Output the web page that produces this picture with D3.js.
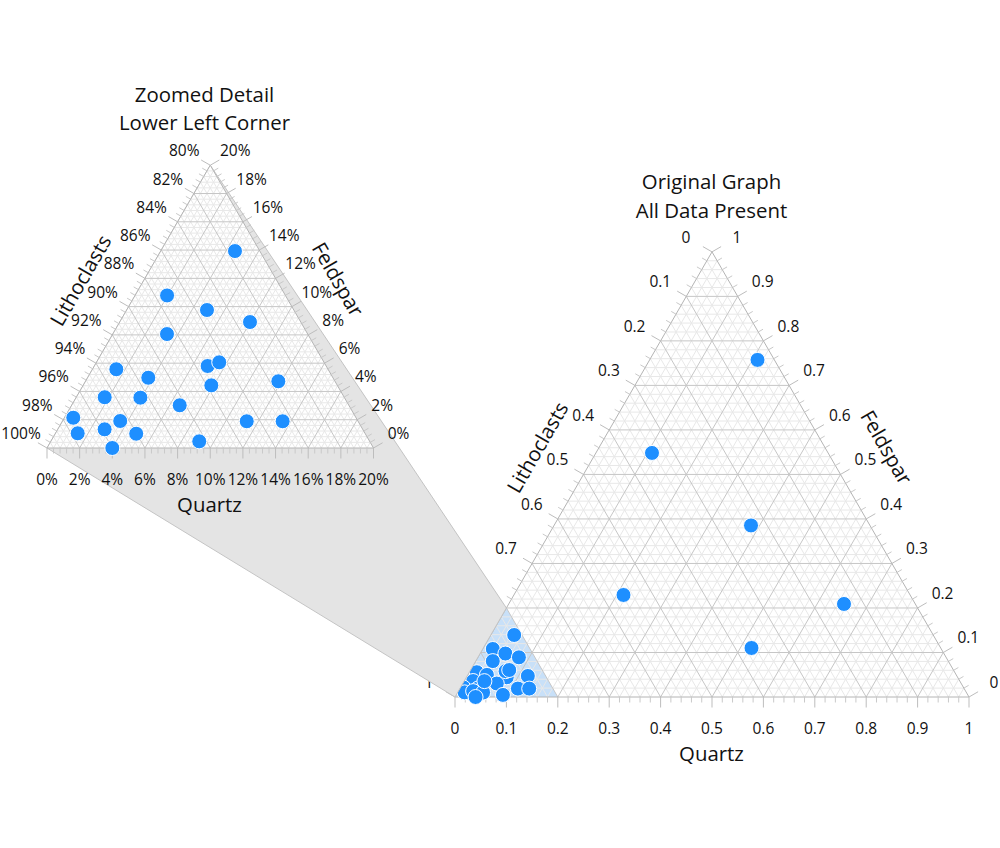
<!DOCTYPE html>
<html lang="en">
<head>
  <meta charset="UTF-8">
  <title>Ternary zoom</title>
  <style>
    body { margin: 0; background: #fff; }
    svg text { font-family: "Open Sans", sans-serif; fill: #111; }
    .tick-label { font-size: 15.5px; text-anchor: middle; dominant-baseline: central; }
    .title { font-size: 20.4px; text-anchor: middle; dominant-baseline: central; }
  </style>
</head>
<body>
  <div id="chart"></div>
  <script src="https://cdn.jsdelivr.net/npm/d3@7"></script>
  <script>
    // percentages; lithoclasts is whatever is left to 100
    var quartz = [4.55, 1.96, 4.92, 7.98, 3.32, 7.85, 6.94, 1.46, 3.72, 11.81, 1.74,
                  6.62, 0.54, 3.53, 11.29, 13.49, 1.36, 2.87, 4.96, 9.09, 4.0, 3.94, 7.52,
                  20.99, 10.91, 38.32, 21.32, 65.23, 52.18];
    var feldspar = [13.93, 10.79, 9.76, 8.91, 8.06, 4.43, 5.8, 5.57, 4.97, 4.72, 3.59,
                    3.02, 2.14, 1.91, 1.89, 1.89, 1.04, 1.32, 1.01, 0.47, 0, 3.56, 6.06,
                    75.73, 54.83, 38.54, 22.92, 20.9, 11.01];

    var fullTicks = ["0", "0.1", "0.2", "0.3", "0.4", "0.5", "0.6", "0.7", "0.8", "0.9", "1"];
    var zoomQuartzTicks = ["0%", "2%", "4%", "6%", "8%", "10%", "12%", "14%", "16%", "18%", "20%"];
    var zoomLithoTicks = ["80%", "82%", "84%", "86%", "88%", "90%", "92%", "94%", "96%", "98%", "100%"];
    var axisTitles = ["Quartz", "Lithoclasts", "Feldspar"];

    var points = quartz.map(function (q, i) {
      return { q: q, f: feldspar[i], l: 100 - q - feldspar[i] };
    });

    var width = 1000, height = 848;
    var svg = d3.select("#chart").append("svg").attr("width", width).attr("height", height);

    var majorColor = "#c6c6c6", minorColor = "#e8e8e8", edgeColor = "#b4b4b4";

    function ternary(opt) {
      var g = svg.append("g");
      var max = opt.max;
      var sx = d3.scaleLinear().domain([0, max]).range([opt.x0, opt.x0 + opt.w]);
      var h = opt.w * Math.sqrt(3) / 2;
      var sy = d3.scaleLinear().domain([0, max]).range([opt.y0, opt.y0 - h]);

      // q = quartz, f = feldspar
      function px(q, f) { return sx(q + f / 2); }
      function py(f) { return sy(f); }
      function path(pts) {
        return "M" + pts.map(function (p) { return px(p[0], p[1]) + "," + py(p[1]); }).join("L");
      }

      g.append("path").attr("d", path([[0, 0], [max, 0], [0, max]]) + "Z").attr("fill", "#fff");
      if (opt.highlight) {
        g.append("path").attr("d", path([[0, 0], [opt.highlight, 0], [0, opt.highlight]]) + "Z")
          .attr("fill", "#c8e0f8");
      }

      var steps = d3.range(1, 50).map(function (i) { return max * i / 50; });
      var major = steps.filter(function (d, i) { return (i + 1) % 5 === 0; });
      var minor = steps.filter(function (d, i) { return (i + 1) % 5 !== 0; });

      function gridLines(vals, color) {
        vals.forEach(function (v) {
          var lines = [
            [[v, 0], [v, max - v]],
            [[0, v], [max - v, v]],
            [[v, 0], [0, v]]
          ];
          lines.forEach(function (l) {
            g.append("path").attr("d", path(l)).attr("fill", "none")
              .attr("stroke", color).attr("stroke-width", 1);
          });
        });
      }
      gridLines(minor, minorColor);
      gridLines(major, majorColor);

      g.append("path").attr("d", path([[0, 0], [max, 0], [0, max]]) + "Z")
        .attr("fill", "none").attr("stroke", edgeColor).attr("stroke-width", 1);

      // tick marks: bottom straight down, sides lean out 30 degrees above horizontal
      var c30 = Math.cos(Math.PI / 6), s30 = 0.5;
      var ticks = d3.range(0, 51).map(function (i) { return max * i / 50; });
      ticks.forEach(function (v, i) {
        var len = i % 5 === 0 ? 10.5 : 5.5;
        var col = i % 5 === 0 ? "#bdbdbd" : "#c9c9c9";
        g.append("line").attr("x1", px(v, 0)).attr("y1", py(0))
          .attr("x2", px(v, 0)).attr("y2", py(0) + len).attr("stroke", col);
        g.append("line").attr("x1", px(0, v)).attr("y1", py(v))
          .attr("x2", px(0, v) - len * c30).attr("y2", py(v) - len * s30).attr("stroke", col);
        g.append("line").attr("x1", px(max - v, v)).attr("y1", py(v))
          .attr("x2", px(max - v, v) + len * c30).attr("y2", py(v) - len * s30).attr("stroke", col);
      });

      // tick labels, one every 5 ticks
      d3.range(0, 11).forEach(function (i) {
        var v = max * i / 10;
        g.append("text").attr("class", "tick-label")
          .attr("x", px(v, 0)).attr("y", py(0) + 30.5).text(opt.quartzLabels[i]);
        g.append("text").attr("class", "tick-label")
          .attr("x", px(0, max - v) - 26).attr("y", py(max - v) - 15).text(opt.lithoLabels[i]);
        g.append("text").attr("class", "tick-label")
          .attr("x", px(max - v, v) + 25).attr("y", py(v) - 15).text(opt.feldsparLabels[i]);
      });

      opt.title.forEach(function (t, i) {
        g.append("text").attr("class", "title")
          .attr("x", opt.titleX).attr("y", opt.titleY + i * 28.5).text(t);
      });
      g.append("text").attr("class", "title")
        .attr("x", opt.qTitle[0]).attr("y", opt.qTitle[1]).text(axisTitles[0]);
      g.append("text").attr("class", "title")
        .attr("transform", "translate(" + opt.lTitle + ") rotate(-60)").text(axisTitles[1]);
      g.append("text").attr("class", "title")
        .attr("transform", "translate(" + opt.fTitle + ") rotate(60)").text(axisTitles[2]);

      g.selectAll("circle")
        .data(points.filter(function (d) { return d.l >= 100 - max; }))
        .enter().append("circle")
        .attr("cx", function (d) { return px(d.q, d.f); })
        .attr("cy", function (d) { return py(d.f); })
        .attr("r", 7.5)
        .attr("fill", "#1e8fff")
        .attr("stroke", "#fff")
        .attr("stroke-width", 1);

      return { px: px, py: py };
    }

    var full = ternary({
      x0: 455, y0: 697, w: 514, max: 100, highlight: 20,
      quartzLabels: fullTicks,
      lithoLabels: fullTicks,
      feldsparLabels: fullTicks,
      title: ["Original Graph", "All Data Present"], titleX: 711.5, titleY: 181,
      qTitle: [711.5, 752.5], lTitle: [537, 447], fTitle: [887, 447]
    });

    // grey wedge joining the highlighted corner to the zoomed triangle
    var zx0 = 47, zy0 = 448, zw = 326.5;
    var wedge = [
      [zx0 + zw / 2, zy0 - zw * Math.sqrt(3) / 2],
      [full.px(0, 20), full.py(20)],
      [full.px(0, 0), full.py(0)],
      [zx0, zy0]
    ];
    svg.append("path").attr("d", "M" + wedge.join("L") + "Z")
      .attr("fill", "#e4e4e4").attr("stroke", "#c4c4c4").attr("stroke-width", 1);

    ternary({
      x0: zx0, y0: zy0, w: zw, max: 20,
      quartzLabels: zoomQuartzTicks,
      lithoLabels: zoomLithoTicks,
      feldsparLabels: zoomQuartzTicks,
      title: ["Zoomed Detail", "Lower Left Corner"], titleX: 204.5, titleY: 93.5,
      qTitle: [209.5, 503.5], lTitle: [80, 280], fTitle: [338.5, 279]
    });
  </script>
</body>
</html>
